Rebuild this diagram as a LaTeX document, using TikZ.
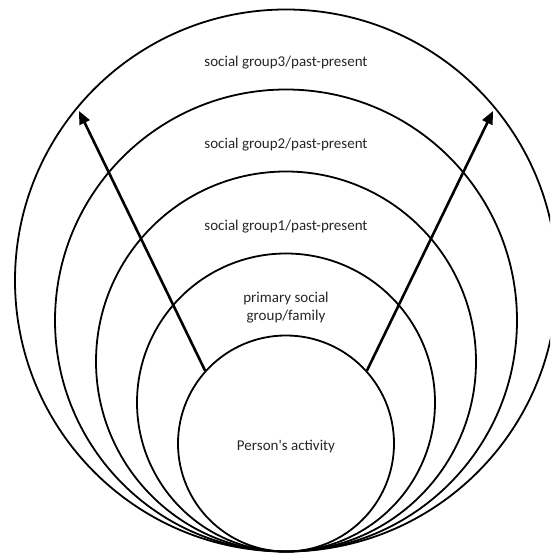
\documentclass[tikz,border=0pt]{standalone}
\usepackage{fontspec}
\setmainfont{Carlito}
\usetikzlibrary{arrows.meta}
\begin{document}
\begin{tikzpicture}[x=1pt, y=1pt,
		ring/.style={circle, draw, line width=1.8pt, minimum size=#1, inner sep=0pt},
		lbl/.style={font=\fontsize{15}{18}\selectfont, text=black!85, align=center},
		reach/.style={line width=2.6pt, -{Triangle[length=13pt, width=11pt]}}]
		\clip (0,0) rectangle (550,554);
		\foreach \name/\r in {group3/271, group2/231, group1/190, family/149, person/108}
			\node[ring={2*\r pt}] (\name) at (286,2.5+\r) {};
		
		\node[lbl] (t3) at (286,491) {social group3/past-present};
		\node[lbl] (t2) at (286,409) {social group2/past-present};
		\node[lbl] (t1) at (286,327) {social group1/past-present};
		\node[lbl] (tf) at (286,246) {primary social\\group/family};
		\node[lbl] (tp) at (286,107) {Person\textquotesingle s activity};
		
		\coordinate (tipL) at (79,443);
		\coordinate (tipR) at (493,443);
		\draw[reach] (person.138) -- (tipL);
		\draw[reach] (person.42) -- (tipR);
\end{tikzpicture}
\end{document}
